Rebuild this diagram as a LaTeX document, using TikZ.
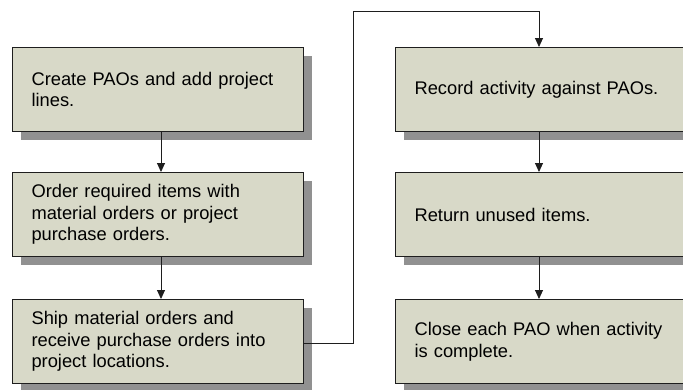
\documentclass[tikz,border=0pt]{standalone}
\usepackage{fontspec}
\setmainfont{Liberation Sans}
\usetikzlibrary{arrows.meta}
\definecolor{boxfill}{RGB}{216,217,200}
\definecolor{shadowgray}{RGB}{145,145,145}
\definecolor{edge}{RGB}{30,30,30}
\tikzset{
  stepbox/.style={draw=edge, line width=1.1pt, fill=boxfill, rectangle,
    minimum height=84pt, inner xsep=19pt, inner ysep=0pt,
    align=left, anchor=north west,
    font=\fontsize{18.3}{21.6}\selectfont},
  flow/.style={draw=edge, line width=0.9pt, -{Triangle[length=9pt,width=8pt]}},
}
\begin{document}
\begin{tikzpicture}[x=1pt,y=-1pt]
\useasboundingbox (0,0) rectangle (683,389);
\clip (0,0) rectangle (683,389);
% shadows
\foreach \ya in {47,172,299}{
  \fill[shadowgray] (20.5,\ya+8.5) rectangle (311.5,\ya+92.5);
  \fill[shadowgray] (403.5,\ya+8.5) rectangle (720,\ya+92.5);
}
% left column
\node[stepbox, text width=253pt] (b1) at (12,47) {Create PAOs and add project\\lines.};
\node[stepbox, text width=253pt] (b2) at (12,172) {Order required items with\\material orders or project\\purchase orders.};
\node[stepbox, text width=253pt] (b3) at (12,299) {Ship material orders and\\receive purchase orders into\\project locations.};
% right column (extends past the right edge)
\node[stepbox, text width=280pt] (b4) at (395,47) {Record activity against PAOs.};
\node[stepbox, text width=280pt] (b5) at (395,172) {Return unused items.};
\node[stepbox, text width=280pt] (b6) at (395,299) {Close each PAO when activity\\is complete.};
% connectors
\coordinate (lx) at (161,0);
\coordinate (rx) at (539,0);
\coordinate (top) at (353,11);
\draw[flow] (b1.south -| lx) -- (b2.north -| lx);
\draw[flow] (b2.south -| lx) -- (b3.north -| lx);
\draw[flow] ([yshift=-2pt]b3.east) -| (top) -| (b4.north -| rx);
\draw[flow] (b4.south -| rx) -- (b5.north -| rx);
\draw[flow] (b5.south -| rx) -- (b6.north -| rx);
\end{tikzpicture}
\end{document}
